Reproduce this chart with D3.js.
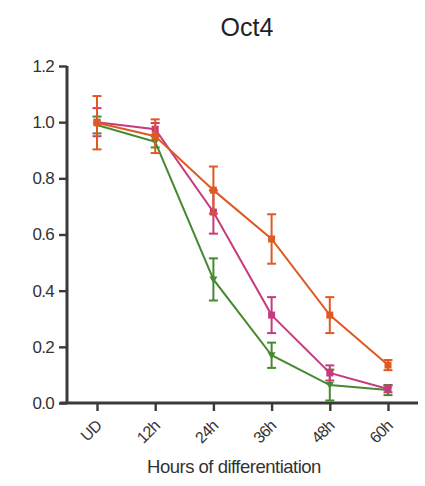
<!DOCTYPE html>
<html>
<head>
<meta charset="utf-8">
<script src="https://cdn.jsdelivr.net/npm/d3@7"></script>
<style>
body{margin:0;background:#fff;}
svg text{font-family:"Liberation Sans",Arial,sans-serif;}
</style>
</head>
<body>
<svg id="chart" width="425" height="486"></svg>
<script>
const categories = ["UD","12h","24h","36h","48h","60h"];
const yTicks = [0.0,0.2,0.4,0.6,0.8,1.0,1.2];

const greenMean = [0.99,0.93,0.44,0.17,0.064,0.046];
const greenErr  = [0.03,0.02,0.075,0.045,0.055,0.018];
const magentaMean = [1.0,0.975,0.68,0.313,0.107,0.05];
const magentaErr  = [0.05,0.022,0.077,0.064,0.027,0.012];
const orangeMean = [0.998,0.95,0.758,0.584,0.313,0.135];
const orangeErr  = [0.095,0.06,0.084,0.088,0.064,0.018];

const series = [
  {name:"green", color:"#46892f", mean:greenMean, err:greenErr, shape:"tri"},
  {name:"magenta", color:"#c53b7e", mean:magentaMean, err:magentaErr, shape:"sq"},
  {name:"orange", color:"#df5a22", mean:orangeMean, err:orangeErr, shape:"sq"}
];

const svg = d3.select("#chart");
const axisColor = "#3a3a3a";

const x = d3.scalePoint().domain(categories).range([97,388]);
const y = d3.scaleLinear().domain([0,1.2]).range([403,66]);

// title
svg.append("text").attr("x",247).attr("y",36).attr("text-anchor","middle")
  .attr("font-size",25).attr("fill","#222").text("Oct4");

// y axis
const yAxis = svg.append("g").attr("transform","translate(67,0)")
  .call(d3.axisLeft(y).tickValues(yTicks).tickFormat(d3.format(".1f")).tickSize(8).tickPadding(5));
yAxis.select(".domain").attr("stroke",axisColor).attr("stroke-width",3).attr("d","M0,66V403");
yAxis.selectAll(".tick line").attr("stroke",axisColor).attr("stroke-width",2.4);
yAxis.selectAll(".tick text").attr("font-size",17).attr("fill","#333").attr("letter-spacing","-0.7");

// x axis
const xAxis = svg.append("g").attr("transform","translate(0,403)")
  .call(d3.axisBottom(x).tickSize(8).tickPadding(3));
xAxis.select(".domain").attr("stroke",axisColor).attr("stroke-width",3).attr("d","M60,0H418");
xAxis.selectAll(".tick line").attr("stroke",axisColor).attr("stroke-width",2.4);
xAxis.selectAll(".tick text").attr("font-size",16).attr("fill","#333")
  .attr("text-anchor","end").attr("x",0).attr("y",0).attr("dy",0)
  .attr("transform","translate(5,24) rotate(-45)").attr("letter-spacing","-0.8");

// x title
svg.append("text").attr("x",234).attr("y",473).attr("text-anchor","middle")
  .attr("font-size",18.5).attr("fill","#333").attr("letter-spacing","-0.5").text("Hours of differentiation");

const line = d3.line().x((d,i)=>x(categories[i])).y(d=>y(d));

series.forEach(s=>{
  const g = svg.append("g");
  g.append("path").datum(s.mean).attr("d",line).attr("fill","none")
    .attr("stroke",s.color).attr("stroke-width",2);
  s.mean.forEach((m,i)=>{
    const cx = x(categories[i]);
    const e = s.err[i];
    const lo = Math.max(0,m-e), hi = m+e;
    g.append("line").attr("x1",cx).attr("x2",cx).attr("y1",y(lo)).attr("y2",y(hi))
      .attr("stroke",s.color).attr("stroke-width",2);
    [lo,hi].forEach(v=>g.append("line").attr("x1",cx-4.5).attr("x2",cx+4.5)
      .attr("y1",y(v)).attr("y2",y(v)).attr("stroke",s.color).attr("stroke-width",2));
    const cy = y(m);
    if(s.shape==="sq"){
      g.append("rect").attr("x",cx-3.5).attr("y",cy-3.5).attr("width",7).attr("height",7).attr("fill",s.color);
    } else {
      g.append("path").attr("d",`M${cx-4},${cy-3}L${cx+4},${cy-3}L${cx},${cy+4}Z`).attr("fill",s.color);
    }
  });
});
</script>
</body>
</html>
